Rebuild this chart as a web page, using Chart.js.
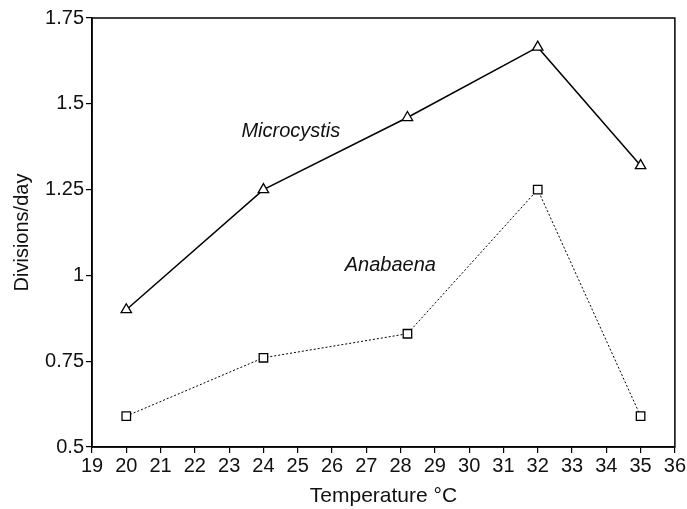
<!DOCTYPE html>
<html>
<head>
<meta charset="utf-8">
<script src="https://cdn.jsdelivr.net/npm/chart.js@4.4.1/dist/chart.umd.min.js"></script>
<style>
  html, body { margin: 0; padding: 0; background: #fff; }
  #wrap { width: 687px; height: 509px; }
</style>
</head>
<body>
<div id="wrap"><canvas id="chart"></canvas></div>
<script>
// temperatures (°C) and growth rates (divisions/day)
const microTemps = [20, 24, 28.2, 32, 35];
const microRates = [0.9, 1.25, 1.46, 1.665, 1.32];
const anaTemps = [20, 24, 28.2, 32, 35];
const anaRates = [0.59, 0.76, 0.83, 1.25, 0.59];
const yTicks = [0.5, 0.75, 1, 1.25, 1.5, 1.75];
const seriesLabels = [
  { text: 'Microcystis', x: 24.8, y: 1.42 },
  { text: 'Anabaena', x: 27.7, y: 1.03 }
];

const FONT = '"Liberation Sans", Arial, sans-serif';

// box round the plot area + the in-plot series names
const boxAndLabels = {
  id: 'boxAndLabels',
  afterDraw(chart) {
    const { ctx, chartArea: a, scales } = chart;
    ctx.save();
    ctx.strokeStyle = '#000';
    ctx.lineWidth = 1.5;
    ctx.strokeRect(a.left, a.top, a.right - a.left, a.bottom - a.top);
    ctx.font = 'italic 20px ' + FONT;
    ctx.fillStyle = '#111';
    ctx.textAlign = 'center';
    ctx.textBaseline = 'middle';
    seriesLabels.forEach(l => {
      ctx.fillText(l.text, scales.x.getPixelForValue(l.x), scales.y.getPixelForValue(l.y));
    });
    ctx.restore();
  }
};

new Chart(document.getElementById('chart'), {
  type: 'line',
  data: {
    datasets: [
      {
        label: 'Microcystis',
        data: microTemps.map((t, i) => ({ x: t, y: microRates[i] })),
        borderColor: '#000',
        borderWidth: 1.5,
        pointStyle: 'triangle',
        pointRadius: 6,
        pointBackgroundColor: '#fff',
        pointBorderColor: '#000',
        pointBorderWidth: 1.3,
        tension: 0
      },
      {
        label: 'Anabaena',
        data: anaTemps.map((t, i) => ({ x: t, y: anaRates[i] })),
        borderColor: '#000',
        borderWidth: 1,
        borderDash: [2, 2],
        pointStyle: 'rect',
        pointRadius: 6,
        pointBackgroundColor: '#fff',
        pointBorderColor: '#000',
        pointBorderWidth: 1.3,
        tension: 0
      }
    ]
  },
  options: {
    responsive: true,
    maintainAspectRatio: false,
    animation: false,
    layout: { padding: { top: 18, right: 12, left: 0, bottom: 0 } },
    plugins: { legend: { display: false }, tooltip: { enabled: false } },
    scales: {
      x: {
        type: 'linear',
        min: 19,
        max: 36,
        afterBuildTicks: axis => {
          axis.ticks = [];
          for (let v = 19; v <= 36; v++) axis.ticks.push({ value: v });
        },
        afterFit: axis => { axis.height = 62; },
        grid: { drawOnChartArea: false, color: '#000', tickLength: 6, lineWidth: 1.2 },
        border: { color: '#000', width: 1.5 },
        ticks: { color: '#111', font: { family: FONT, size: 20 }, padding: 1, maxRotation: 0 },
        title: { display: true, text: 'Temperature °C', color: '#111', font: { family: FONT, size: 21 }, padding: { top: 2, bottom: 0 } }
      },
      y: {
        type: 'linear',
        min: 0.5,
        max: 1.75,
        afterBuildTicks: axis => { axis.ticks = yTicks.map(v => ({ value: v })); },
        afterFit: axis => { axis.width = 92; },
        grid: { drawOnChartArea: false, color: '#000', tickLength: 6, lineWidth: 1.2 },
        border: { color: '#000', width: 1.5 },
        ticks: { color: '#111', font: { family: FONT, size: 20 }, padding: 2, callback: v => String(v) },
        title: { display: true, text: 'Divisions/day', color: '#111', font: { family: FONT, size: 20 }, padding: { top: 10, bottom: 4 } }
      }
    }
  },
  plugins: [boxAndLabels]
});
</script>
</body>
</html>
